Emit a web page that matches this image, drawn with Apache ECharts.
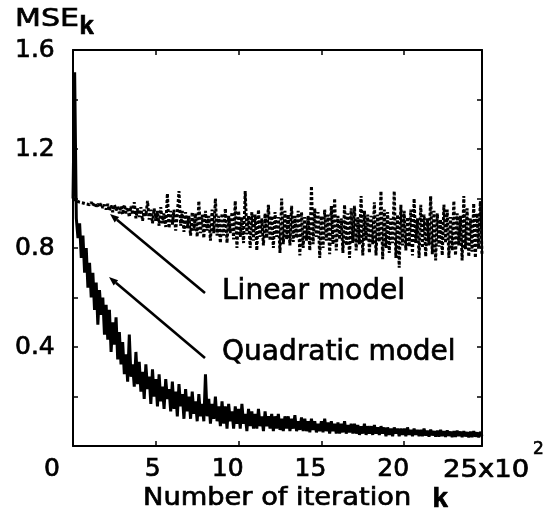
<!DOCTYPE html>
<html><head><meta charset="utf-8">
<script src="https://cdn.jsdelivr.net/npm/echarts@6/dist/echarts.min.js"></script>
<style>html,body{margin:0;padding:0;background:#fff}#c{width:553px;height:521px}</style>
</head><body><div id="c"></div>
<script>
// iteration step between stored samples
const step = 10;

// Quadratic model MSE_k (solid line), one value every 10 iterations
const quadratic = [
 1.00, 1.51, 0.92, 0.84, 0.90, 0.76, 0.85, 0.70, 0.80, 0.64,
 0.74, 0.60, 0.70, 0.55, 0.66, 0.49, 0.63, 0.53, 0.60, 0.45,
 0.57, 0.43, 0.55, 0.38, 0.50, 0.41, 0.52, 0.35, 0.46, 0.33,
 0.42, 0.29, 0.37, 0.26, 0.45, 0.28, 0.33, 0.24, 0.38, 0.25,
 0.34, 0.22, 0.30, 0.19, 0.33, 0.23, 0.28, 0.17, 0.31, 0.20,
 0.27, 0.16, 0.29, 0.18, 0.24, 0.15, 0.27, 0.19, 0.23, 0.14,
 0.26, 0.15, 0.22, 0.12, 0.25, 0.16, 0.21, 0.11, 0.23, 0.14,
 0.20, 0.11, 0.22, 0.13, 0.18, 0.10, 0.21, 0.12, 0.17, 0.10,
 0.29, 0.12, 0.19, 0.09, 0.17, 0.11, 0.20, 0.10, 0.16, 0.08,
 0.18, 0.09, 0.16, 0.07, 0.17, 0.10, 0.14, 0.07, 0.16, 0.09,
 0.15, 0.07, 0.17, 0.09, 0.13, 0.06, 0.15, 0.08, 0.14, 0.07,
 0.13, 0.07, 0.15, 0.08, 0.12, 0.06, 0.14, 0.08, 0.12, 0.07,
 0.13, 0.06, 0.12, 0.07, 0.13, 0.065, 0.11, 0.06, 0.12, 0.07,
 0.12, 0.06, 0.11, 0.07, 0.125, 0.06, 0.10, 0.065, 0.115, 0.06,
 0.11, 0.06, 0.10, 0.055, 0.11, 0.065, 0.10, 0.055, 0.09, 0.06,
 0.10, 0.055, 0.11, 0.06, 0.095, 0.05, 0.10, 0.06, 0.09, 0.05,
 0.095, 0.05, 0.09, 0.055, 0.10, 0.05, 0.085, 0.055, 0.09, 0.05,
 0.09, 0.05, 0.085, 0.045, 0.08, 0.05, 0.09, 0.045, 0.08, 0.05,
 0.08, 0.045, 0.085, 0.05, 0.075, 0.045, 0.08, 0.05, 0.075, 0.04,
 0.075, 0.045, 0.07, 0.04, 0.075, 0.05, 0.07, 0.04, 0.07, 0.045,
 0.07, 0.04, 0.075, 0.045, 0.065, 0.04, 0.07, 0.045, 0.065, 0.04,
 0.065, 0.04, 0.07, 0.042, 0.062, 0.038, 0.066, 0.043, 0.06, 0.038,
 0.062, 0.038, 0.065, 0.04, 0.06, 0.037, 0.063, 0.041, 0.058, 0.036,
 0.06, 0.037, 0.062, 0.04, 0.058, 0.036, 0.06, 0.039, 0.056, 0.035,
 0.058, 0.036, 0.06, 0.038, 0.055, 0.035, 0.057, 0.04
];

// Linear model MSE_k (dotted line), one value every 10 iterations
const linear = [
 1.00, 0.995, 0.99, 0.992, 0.985, 0.99, 0.982, 0.988, 0.978, 0.985,
 0.975, 0.985, 0.97, 0.982, 0.968, 0.978, 0.965, 0.98, 0.962, 0.975,
 0.955, 0.978, 0.95, 0.972, 0.945, 0.975, 0.952, 0.968, 0.94, 0.97,
 0.935, 0.975, 0.94, 0.965, 0.925, 0.97, 0.935, 0.985, 0.92, 0.96,
 0.925, 0.965, 0.91, 0.955, 0.93, 0.99, 0.915, 0.955, 0.90, 0.96,
 0.91, 0.95, 0.89, 0.965, 0.90, 0.94, 0.885, 1.02, 0.88, 0.95,
 0.895, 0.955, 0.87, 0.94, 1.03, 0.89, 0.95, 0.865, 0.945, 0.88,
 0.93, 0.85, 0.945, 0.87, 0.94, 0.845, 0.99, 0.86, 0.935, 0.84,
 0.95, 0.87, 0.93, 0.83, 0.955, 0.86, 1.00, 0.85, 0.93, 0.82,
 0.94, 0.85, 0.96, 0.82, 0.93, 0.86, 0.945, 0.835, 0.99, 0.80,
 0.95, 0.845, 0.925, 0.82, 1.03, 0.855, 0.93, 0.80, 0.945, 0.83,
 0.935, 0.79, 0.955, 0.845, 0.92, 0.81, 0.94, 0.84, 0.975, 0.83,
 0.93, 0.80, 0.945, 0.845, 0.925, 0.78, 1.00, 0.815, 0.95, 0.835,
 0.935, 0.81, 0.97, 0.825, 0.93, 0.84, 0.95, 0.77, 0.945, 0.80,
 0.925, 0.83, 0.93, 0.79, 1.05, 0.815, 0.96, 0.845, 0.945, 0.76,
 0.93, 0.80, 0.955, 0.83, 0.935, 0.775, 0.97, 0.815, 1.00, 0.79,
 0.93, 0.835, 0.92, 0.78, 0.975, 0.81, 0.94, 0.76, 0.96, 0.82,
 0.97, 0.79, 0.925, 0.815, 1.01, 0.77, 0.95, 0.83, 0.935, 0.78,
 0.93, 0.815, 0.985, 0.77, 0.935, 0.825, 1.03, 0.755, 0.955, 0.80,
 0.945, 0.78, 0.92, 0.82, 1.03, 0.76, 0.935, 0.72, 0.975, 0.81,
 0.95, 0.79, 0.925, 0.805, 0.955, 0.77, 1.00, 0.82, 0.92, 0.76,
 0.975, 0.80, 0.935, 0.765, 0.92, 0.81, 1.01, 0.775, 0.95, 0.75,
 0.94, 0.805, 0.915, 0.77, 0.975, 0.82, 0.955, 0.76, 0.925, 0.79,
 0.99, 0.77, 0.94, 0.81, 0.93, 0.75, 1.01, 0.795, 0.96, 0.765,
 0.92, 0.785, 0.98, 0.76, 0.94, 0.80, 0.99, 0.77
];

const xTickValues = [500, 1000, 1500, 2000];
const xTickLabels = ['5', '10', '15', '20'];
const xEndLabel = '25x10';
const xEndExponent = '2';
const yTickValues = [0.4, 0.8, 1.2, 1.6];
const yTickLabels = ['0.4', '0.8', '1.2', '1.6'];
const originLabel = '0';
const yTitle = 'MSE';
const yTitleSub = 'k';
const xTitle = 'Number of iteration';
const xTitleVar = 'k';
const annotationLinear = 'Linear model';
const annotationQuadratic = 'Quadratic model';

const toPairs = arr => arr.map((v, i) => [i * step, v]);

const SANS = 'DejaVu Sans';
const SERIF_K = 'Liberation Mono';
const black = '#000';
const HEAVY = 0.7; // slight text thickening, like the scanned print

function frame() {
  return {
    axisLine: {show: true, onZero: false, lineStyle: {color: black, width: 2}},
    axisTick: {show: true, inside: true, length: 5, lineStyle: {color: black, width: 1.5}},
    axisLabel: {show: false},
    splitLine: {show: false}
  };
}

function arrow(x1, y1, x2, y2) {
  const dx = x1 - x2, dy = y1 - y2, L = Math.hypot(dx, dy);
  const ux = dx / L, uy = dy / L;
  const hl = 9, hw = 3.5;
  const bx = x1 - ux * hl, by = y1 - uy * hl;
  return [
    {type: 'line', shape: {x1: bx, y1: by, x2: x2, y2: y2}, style: {stroke: black, lineWidth: 2.6}},
    {type: 'polygon', shape: {points: [[x1, y1], [bx - uy * hw, by + ux * hw], [bx + uy * hw, by - ux * hw]]}, style: {fill: black}}
  ];
}

function label(text, x, y, font, scaleX, align) {
  return {type: 'text', x: x, y: y, scaleX: scaleX || 1,
    style: {text: text, font: font, fill: black, stroke: black, lineWidth: HEAVY,
      align: align || 'left', verticalAlign: 'middle'}};
}

const leftAxis = frame();
leftAxis.axisLabel = {
  show: true, customValues: yTickValues, align: 'left', margin: 58, padding: [6, 0, 0, 0],
  formatter: v => yTickLabels[yTickValues.findIndex(t => Math.abs(t - v) < 1e-6)],
  fontFamily: SANS, fontSize: 25, color: black, textBorderColor: black, textBorderWidth: HEAVY
};

const chart = echarts.init(document.getElementById('c'), null, {renderer: 'canvas'});
chart.setOption({
  animation: false,
  backgroundColor: '#fff',
  grid: {left: 73, right: 71, top: 50, bottom: 75},
  xAxis: [
    Object.assign({type: 'value', min: 0, max: 2470, interval: 500, position: 'bottom', offset: 0}, frame()),
    Object.assign({type: 'value', min: 0, max: 2470, interval: 500, position: 'top', offset: 0}, frame()),
    {
      type: 'value', min: -30, max: 2440, position: 'bottom', offset: 0,
      axisLine: {show: false, onZero: false}, axisTick: {show: false}, splitLine: {show: false},
      axisLabel: {
        show: true, customValues: xTickValues, align: 'right', margin: 11,
        formatter: v => xTickLabels[xTickValues.indexOf(v)],
        fontFamily: SANS, fontSize: 25, color: black, textBorderColor: black, textBorderWidth: HEAVY
      }
    }
  ],
  yAxis: [
    Object.assign({type: 'value', min: 0, max: 1.6, interval: 0.2, position: 'left', offset: 0}, leftAxis),
    Object.assign({type: 'value', min: 0, max: 1.6, interval: 0.2, position: 'right', offset: 0}, frame())
  ],
  series: [
    {
      name: annotationLinear, type: 'line', xAxisIndex: 0, yAxisIndex: 0,
      data: toPairs(linear), showSymbol: false, symbol: 'none',
      lineStyle: {color: black, width: 3, type: [3, 2]}, z: 2
    },
    {
      name: annotationQuadratic, type: 'line', xAxisIndex: 0, yAxisIndex: 0,
      data: toPairs(quadratic), showSymbol: false, symbol: 'none',
      lineStyle: {color: black, width: 3}, z: 3
    }
  ],
  graphic: [
    label(originLabel, 52, 469, '25px "' + SANS + '"', 1, 'center'),
    label(xEndLabel, 443, 470, '25px "' + SANS + '"', 1.1),
    label(xEndExponent, 533, 450, '17px "' + SANS + '"'),
    label(yTitle, 15, 19, '25px "' + SANS + '"', 1.2),
    label(yTitleSub, 79, 27, 'bold 26px "' + SERIF_K + '"'),
    label(xTitle, 143, 498, '25px "' + SANS + '"', 1.09),
    label(xTitleVar, 432, 500, 'bold 28px "' + SERIF_K + '"'),
    label(annotationLinear, 222, 292, '28px "' + SANS + '"'),
    label(annotationQuadratic, 222, 353, '28px "' + SANS + '"')
  ].concat(arrow(110, 214, 205, 293)).concat(arrow(109, 277, 205, 358))
});
</script>
</body></html>
